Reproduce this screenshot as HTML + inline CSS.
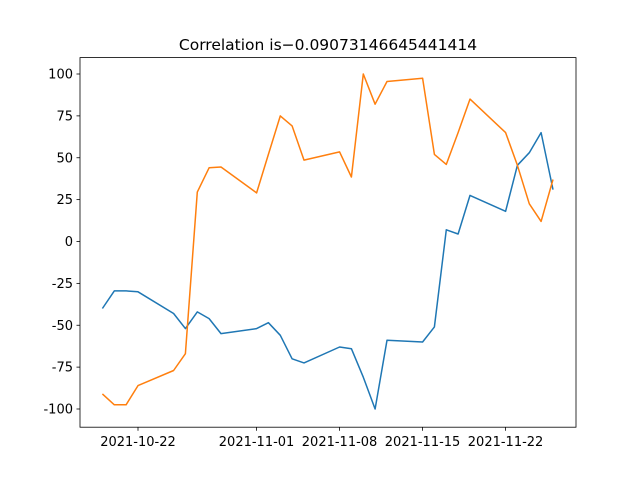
<!DOCTYPE html>
<html><head><meta charset="utf-8"><style>
body{margin:0;background:#fff}
svg text{font-family:"DejaVu Sans","Liberation Sans",sans-serif;fill:#000}
</style></head><body>
<svg id="chart" width="640" height="480" viewBox="0 0 640 480">
<rect width="640" height="480" fill="#fff"/>
<text x="328" y="50" text-anchor="middle" font-size="15.5">Correlation is−0.09073146645441414</text>
<g id="ticks"></g>
<g id="series"></g>
<rect x="80" y="57.6" width="496" height="369.6" fill="none" stroke="#000" stroke-width="0.8"/>
</svg>
<script>
const dayOffsets=[-3,-2,-1,0,3,4,5,6,7,10,11,12,13,14,17,18,19,20,21,24,25,26,27,28,31,32,33,34,35];
const seriesA=[-40,-29.5,-29.5,-30,-43,-52,-42,-46,-55,-52,-48.5,-56,-70,-72.5,-63,-64,-81,-100,-59,-60,-51,7,4.5,27.5,18,45.5,53,65,31];
const seriesB=[-91,-97.5,-97.5,-86,-77,-67,29.5,44,44.5,29,52,75,69,48.6,53.5,38.5,100,82,95.5,97.5,52,46,65,85,65,45.5,22.5,12,37];
const yTicks=[-100,-75,-50,-25,0,25,50,75,100];
const xTickDays=[0,10,17,24,31];
const xTickLabels=["2021-10-22","2021-11-01","2021-11-08","2021-11-15","2021-11-22"];
const NS="http://www.w3.org/2000/svg";
const xS=d=>138+d*11.857;
const yS=v=>241.5-v*1.675;
const tg=document.getElementById('ticks');
function mk(t,a,p){const e=document.createElementNS(NS,t);for(const k in a)e.setAttribute(k,a[k]);p.appendChild(e);return e;}
yTicks.forEach(v=>{
 const y=yS(v);
 const l=mk('line',{x1:76.5,x2:80,y1:y,y2:y,stroke:'#000','stroke-width':0.8},tg);
 
 
 const t=mk('text',{x:73,y:y+4.5,'text-anchor':'end','font-size':13},tg);
 t.textContent=v;
 
 
});
xTickDays.forEach((d,i)=>{
 const x=xS(d);
 const l=mk('line',{x1:x,x2:x,y1:427.2,y2:430.7,stroke:'#000','stroke-width':0.8},tg);
 
 
 const t=mk('text',{x:x,y:446,'text-anchor':'middle','font-size':13},tg);
 t.textContent=xTickLabels[i];
 
 
});
const sg=document.getElementById('series');
[[seriesA,'#1f77b4','series-a-line'],[seriesB,'#ff7f0e','series-b-line']].forEach(([s,c,n])=>{
 const pts=s.map((v,i)=>xS(dayOffsets[i]).toFixed(1)+','+yS(v).toFixed(1)).join(' ');
 const p=mk('polyline',{points:pts,fill:'none',stroke:c,'stroke-width':1.5,'stroke-linejoin':'round'},sg);
 
 
});
</script>
</body></html>
